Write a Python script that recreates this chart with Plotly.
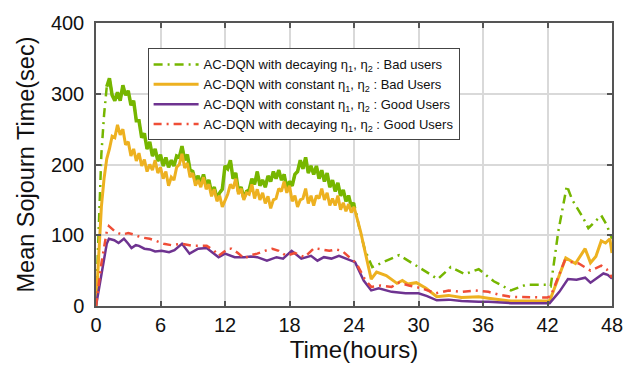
import numpy as np
import plotly.graph_objects as go

# ---------------- data ----------------
# fine time grid (hours) for the noisy first day
t_fine = list(np.arange(0, 24.01, 0.25))

bad_const_fine = [
    0, 80, 140, 180, 208, 222, 240, 238,
    256, 242, 250, 228, 232, 212, 222, 205,
    216, 198, 207, 190, 200, 192, 206, 188,
    196, 180, 190, 170, 182, 178, 196, 200,
    215, 195, 202, 182, 188, 170, 178, 168,
    182, 165, 172, 155, 165, 148, 156, 140,
    150, 158, 172, 166, 180, 158, 166, 150,
    160, 158, 172, 152, 165, 150, 160, 145,
    155, 138, 150, 152, 166, 162, 176, 160,
    170, 148, 156, 140, 150, 152, 166, 145,
    156, 142, 156, 152, 166, 150, 160, 142,
    152, 142, 156, 136, 146, 134, 144, 132,
    140]
bad_const_tail_t = [24.6, 25.6, 26.1, 27.0, 28.0, 28.5, 29.0, 29.8, 30.7, 31.7, 32.8, 34.0,
                    35.6, 36.5, 38.6, 42.2, 43.7, 44.6, 45.5, 46.0, 46.5, 47.0, 47.4, 47.8, 48.0]
bad_const_tail = [106, 38, 48, 43, 32, 36, 31, 33, 25, 13, 15, 12,
                  13, 11, 7, 7, 68, 60, 81, 61, 70, 92, 89, 95, 75]

bad_decay_fine = [
    0, 110, 215, 270, 310, 322, 298, 290,
    302, 290, 312, 298, 304, 284, 290, 262,
    262, 238, 244, 222, 232, 212, 222, 205,
    214, 198, 210, 196, 206, 198, 212, 210,
    226, 206, 214, 192, 190, 176, 184, 172,
    186, 170, 178, 160, 168, 152, 160, 165,
    198, 194, 206, 180, 188, 162, 168, 152,
    162, 164, 180, 172, 190, 170, 178, 168,
    184, 176, 190, 180, 192, 178, 186, 166,
    176, 170, 186, 190, 206, 194, 210, 188,
    198, 186, 198, 180, 192, 176, 188, 168,
    178, 162, 174, 156, 164, 148, 156, 140,
    146]
bad_decay_tail_t = [24.5, 25.0, 25.7, 26.8, 28.2, 30.0, 31.8, 33.0, 34.3, 35.6, 37.0, 38.6,
                    40.0, 42.0, 42.3, 43.0, 43.8, 44.3, 44.7, 45.3, 45.8, 46.5, 47.0, 47.5, 48.0]
bad_decay_tail = [110, 80, 55, 62, 72, 55, 38, 55, 45, 52, 35, 22,
                  30, 30, 28, 105, 170, 150, 140, 125, 110, 120, 128, 115, 95]

good_const_t = [0, 0.5, 1.0, 1.2, 1.7, 2.1, 2.6, 3.0, 3.3, 3.7, 4.0, 4.5, 5.0, 5.5, 6.1, 6.8,
                7.3, 8.0, 8.7, 9.5, 10.3, 10.8, 11.4, 12.0, 12.9, 13.8, 14.4, 15.0, 15.9,
                16.8, 17.4, 18.2, 19.1, 20.0, 20.6, 21.2, 21.9, 22.6, 23.2, 23.7, 24.1,
                24.9, 25.6, 26.3, 27.5, 28.8, 30.0, 30.8, 31.7, 32.8, 34.0, 35.6, 36.5,
                38.6, 42.2, 43.1, 43.9, 44.7, 45.5, 46.0, 46.6, 47.2, 47.6, 48.0]
good_const = [0, 45, 88, 95, 93, 89, 95, 88, 82, 86, 85, 81, 80, 77, 78, 76,
              79, 88, 74, 81, 82, 76, 69, 74, 69, 69, 70, 69, 64,
              69, 67, 78, 67, 71, 64, 69, 67, 71, 67, 64, 62,
              36, 22, 25, 20, 18, 18, 14, 8, 9, 7, 6, 6,
              4, 4, 20, 38, 37, 40, 33, 40, 46, 44, 39]

good_decay_t = [0, 0.5, 1.0, 1.2, 1.8, 2.4, 3.0, 3.5, 4.2, 5.0, 5.6, 6.3, 7.0, 8.0, 9.0,
                10.3, 11.0, 11.4, 12.3, 12.6, 13.2, 13.8, 14.4, 15.0, 15.7, 16.4, 17.0,
                17.7, 18.5, 19.4, 20.3, 21.0, 21.7, 22.3, 22.9, 23.7, 24.2, 25.0, 25.6,
                26.5, 27.5, 28.2, 29.1, 30.3, 31.6, 32.8, 34.0, 35.3, 36.5, 37.5, 38.6,
                42.0, 42.3, 43.6, 44.9, 46.0, 47.0, 47.5, 48.0]
good_decay = [0, 60, 105, 113, 105, 101, 103, 101, 97, 95, 92, 88, 86, 88, 85,
              85, 78, 71, 81, 81, 75, 67, 72, 74, 78, 81, 78,
              71, 75, 69, 82, 80, 78, 80, 78, 67, 61, 38, 27,
              29, 27, 33, 29, 25, 18, 22, 20, 22, 20, 16, 13,
              12, 14, 64, 60, 50, 57, 52, 40]

x_ticks = [0, 6, 12, 18, 24, 30, 36, 42, 48]
y_ticks = [0, 100, 200, 300, 400]

names = ["AC-DQN with decaying η<sub>1</sub>, η<sub>2</sub> : Bad users",
         "AC-DQN with constant η<sub>1</sub>, η<sub>2</sub> : Bad Users",
         "AC-DQN with constant η<sub>1</sub>, η<sub>2</sub> : Good Users",
         "AC-DQN with decaying η<sub>1</sub>, η<sub>2</sub> : Good Users"]
colors = ["#76b600", "#edb120", "#6e3390", "#ef4e37"]

# ---------------- figure ----------------
fig = go.Figure()
bd_t = t_fine + bad_decay_tail_t
bd_y = bad_decay_fine + bad_decay_tail
bc_t = t_fine + bad_const_tail_t
bc_y = bad_const_fine + bad_const_tail

fig.add_trace(go.Scatter(x=bd_t, y=bd_y, mode="lines", name=names[0],
                         line=dict(color=colors[0], width=2.5, dash="9px,5px,2px,5px")))
# noisy part of the decaying curve appears solid
fig.add_trace(go.Scatter(x=t_fine[4:], y=bad_decay_fine[4:], mode="lines", showlegend=False,
                         line=dict(color=colors[0], width=3.5)))
fig.add_trace(go.Scatter(x=bc_t, y=bc_y, mode="lines", name=names[1],
                         line=dict(color=colors[1], width=3)))
fig.add_trace(go.Scatter(x=good_const_t, y=good_const, mode="lines", name=names[2],
                         line=dict(color=colors[2], width=2.5)))
fig.add_trace(go.Scatter(x=good_decay_t, y=good_decay, mode="lines", name=names[3],
                         line=dict(color=colors[3], width=2.5, dash="8px,5px,2px,5px")))

axis_common = dict(showline=True, linecolor="#555555", linewidth=1.5, mirror="ticks",
                   ticks="inside", ticklen=5, tickcolor="#555555", tickwidth=1.5,
                   showgrid=True, gridcolor="#d9d9d9", gridwidth=1.5, zeroline=False,
                   tickfont=dict(size=20, color="#111111"))

fig.update_layout(
    width=635, height=370,
    margin=dict(l=96, r=21, t=19, b=64),
    paper_bgcolor="white", plot_bgcolor="white",
    font=dict(family="Liberation Sans, Arial, sans-serif", color="#111111", size=13),
    xaxis=dict(range=[0, 48], tickvals=x_ticks, ticklabelstandoff=0,
               title=dict(text="Time(hours)", font=dict(size=24), standoff=4), **axis_common),
    yaxis=dict(range=[0, 400], tickvals=y_ticks, ticklabelstandoff=6,
               title=dict(text="Mean Sojourn Time(sec)", font=dict(size=23.5), standoff=10),
               **axis_common),
    legend=dict(x=0.1, y=0.91, xanchor="left", yanchor="top", bgcolor="white",
                bordercolor="#444444", borderwidth=1, font=dict(size=13),
                itemwidth=45, tracegroupgap=0),
    showlegend=True,
)

fig.write_html("out.html")
